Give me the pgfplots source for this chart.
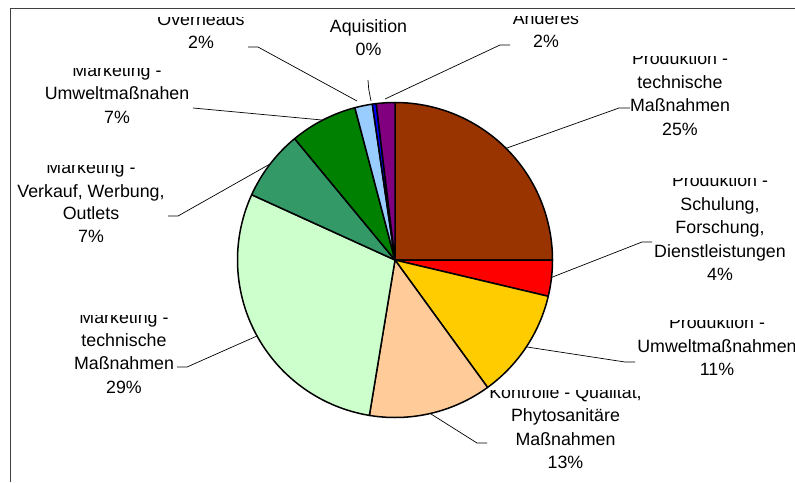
\documentclass[border=0pt]{standalone}
\usepackage{pgfplots}
\usepackage{pgfplotstable}
\pgfplotsset{compat=1.18}
\usepackage{fontspec}
\setmainfont{Liberation Sans}

\definecolor{c0}{HTML}{993300}
\definecolor{c1}{HTML}{FF0000}
\definecolor{c2}{HTML}{FFCC00}
\definecolor{c3}{HTML}{FFCC99}
\definecolor{c4}{HTML}{CCFFCC}
\definecolor{c5}{HTML}{339966}
\definecolor{c6}{HTML}{008000}
\definecolor{c7}{HTML}{99CCFF}
\definecolor{c8}{HTML}{0000FF}
\definecolor{c9}{HTML}{800080}

% shares in percent, clockwise from 12 o'clock
\pgfplotstableread{
name pct
ProdTech 25.0
ProdSchul 3.7
ProdUmw 11.3
Kontrolle 12.6
MktTech 29.2
MktVerk 7.2
MktUmw 6.9
Overheads 1.8
Aquisition 0.4
Anderes 1.9
}\piedata

\newcommand{\fl}[3]{\begin{scope}\clip (axis cs:#1-130,#2-7.8) rectangle (axis cs:#1+130,#2+8);\node[anchor=base,inner sep=0pt] at (axis cs:#1,#2) {#3};\end{scope}}
\newcommand{\tl}[3]{\node[anchor=base,inner sep=0pt] at (axis cs:#1,#2) {#3};}

\begin{document}
\begin{tikzpicture}[font=\fontsize{17.8}{23.3}\selectfont]
\begin{axis}[
  scale only axis, width=795pt, height=482pt,
  xmin=0, xmax=795, ymin=0, ymax=482,
  y dir=reverse, hide axis, clip=false]

% frame
\draw[black!75, line width=0.8pt] (axis cs:10,482) -- (axis cs:10,8) -- (axis cs:795,8);

% leader lines
\draw[black, line width=0.7pt] (axis cs:248,47) -- (axis cs:258,47) -- (axis cs:357,101);
\draw[black, line width=0.7pt] (axis cs:368,80) -- (axis cs:368.7,89) -- (axis cs:371,101);
\draw[black, line width=0.7pt] (axis cs:510,45) -- (axis cs:500,45) -- (axis cs:385,99);
\draw[black, line width=0.7pt] (axis cs:630,108) -- (axis cs:619,108) -- (axis cs:507,148);
\draw[black, line width=0.7pt] (axis cs:652,242) -- (axis cs:642,242) -- (axis cs:550,278);
\draw[black, line width=0.7pt] (axis cs:635,362) -- (axis cs:625,362) -- (axis cs:527,347);
\draw[black, line width=0.7pt] (axis cs:487,443) -- (axis cs:477,443) -- (axis cs:431,414);
\draw[black, line width=0.7pt] (axis cs:177,367) -- (axis cs:187,367) -- (axis cs:257,336);
\draw[black, line width=0.7pt] (axis cs:168,216) -- (axis cs:178,216) -- (axis cs:270,164);
\draw[black, line width=0.7pt] (axis cs:193,108) -- (axis cs:322,120);

% labels
\fl{201}{25}{Overheads} \tl{201}{48}{2\%}
\tl{368.5}{32}{Aquisition} \tl{368.5}{55}{0\%}
\fl{546}{24}{Anderes} \tl{546}{47}{2\%}
\fl{680}{64}{Produktion -} \tl{680}{88}{technische} \tl{680}{111}{Maßnahmen} \tl{680}{135}{25\%}
\fl{720}{186}{Produktion -} \tl{720}{210}{Schulung,} \tl{720}{233}{Forschung,} \tl{720}{257}{Dienstleistungen} \tl{720}{280}{4\%}
\fl{717}{328}{Produktion -} \tl{717}{352}{Umweltmaßnahmen} \tl{717}{375}{11\%}
\fl{565.5}{398}{Kontrolle - Qualität,} \tl{565.5}{421}{Phytosanitäre} \tl{565.5}{445}{Maßnahmen} \tl{565.5}{468}{13\%}
\fl{124}{323}{Marketing -} \tl{124}{346}{technische} \tl{124}{369}{Maßnahmen} \tl{124}{393}{29\%}
\fl{91}{173}{Marketing -} \tl{91}{197}{Verkauf, Werbung,} \tl{91}{219}{Outlets} \tl{91}{242}{7\%}
\fl{117}{76}{Marketing -} \tl{117}{99}{Umweltmaßnahen} \tl{117}{123}{7\%}

% pie slices
\pgfmathsetmacro\cum{0}
\pgfplotsforeachungrouped \i in {0,...,9}{%
  \pgfplotstablegetelem{\i}{pct}\of\piedata
  \pgfmathsetmacro\a{\cum*3.6}
  \pgfmathsetmacro\cum{\cum+\pgfplotsretval}
  \pgfmathsetmacro\b{\cum*3.6}
  \edef\doslice{\noexpand\addplot[fill=c\i, draw=black, line width=1.5pt, line join=round, domain=\a:\b, samples=60] ({395+157.5*sin(x)},{260-157.5*cos(x)}) -- (axis cs:395,260) -- cycle;}
  \doslice
}
\end{axis}
\pgfresetboundingbox
\path (0,0) rectangle (795pt,482pt);
\end{tikzpicture}
\end{document}
